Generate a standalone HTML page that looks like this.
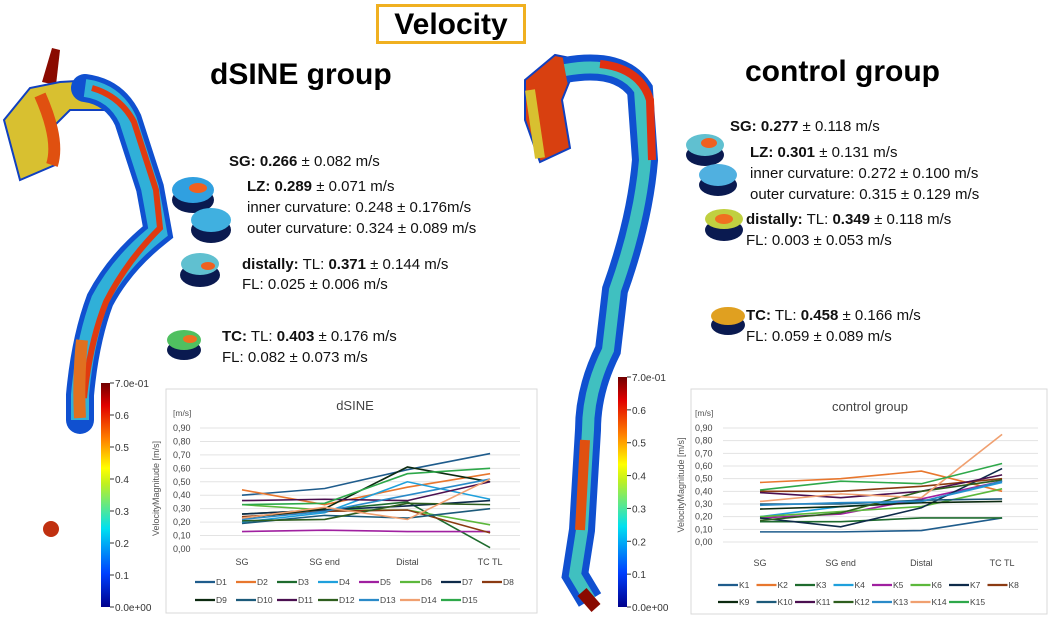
<!DOCTYPE html>
<html><head><meta charset="utf-8">
<style>
body{margin:0;width:1052px;height:617px;background:#fff;position:relative;overflow:hidden;font-family:"Liberation Sans",sans-serif;}
.abs{position:absolute;white-space:nowrap;}
.t{font-size:15px;color:#111;}
</style></head><body>
<div class="abs" style="left:376px;top:4px;width:150px;height:40px;border:3px solid #f0b020;box-sizing:border-box;text-align:center;font-weight:bold;font-size:30px;line-height:36px;">Velocity</div>
<div class="abs" style="left:210px;top:58px;font-weight:bold;font-size:30px;">dSINE group</div>
<div class="abs" style="left:745px;top:55px;font-weight:bold;font-size:30px;">control group</div>

<svg class="abs" style="left:0;top:0" width="1052" height="617">
<defs>
<linearGradient id="cb" x1="0" y1="1" x2="0" y2="0">
<stop offset="0" stop-color="#00008c"/><stop offset="0.15" stop-color="#0040ff"/><stop offset="0.35" stop-color="#00e0f0"/><stop offset="0.55" stop-color="#c0f020"/><stop offset="0.62" stop-color="#ffff00"/><stop offset="0.75" stop-color="#ff8000"/><stop offset="0.9" stop-color="#e00000"/><stop offset="1" stop-color="#700000"/></linearGradient>
</defs>
<g>
<path d="M42,82 L52,48 L60,50 L56,85 Z" fill="#8a0a00"/>
<path d="M4,120 L30,88 L60,82 L95,80 L120,95 L105,110 L70,110 L50,130 L55,165 L20,180 Z" fill="#d8c030" stroke="#1040c0" stroke-width="2"/>
<path d="M40,95 Q60,140 52,165" stroke="#e05010" stroke-width="12" fill="none"/>
<path d="M85,88 Q115,92 128,120 L150,188 L158,232 Q120,262 100,300 Q85,340 80,395 L80,420" stroke="#1050d0" stroke-width="28" fill="none" stroke-linecap="round"/>
<path d="M85,88 Q115,92 128,120 L150,188 L158,232 Q120,262 100,300 Q85,340 80,395 L80,420" stroke="#30b0d8" stroke-width="18" fill="none"/>
<path d="M92,88 Q120,96 134,122 L156,190 L160,228 Q126,262 106,302 Q90,342 84,398" stroke="#e03a10" stroke-width="6" fill="none"/>
<path d="M82,340 Q78,380 80,418" stroke="#e07020" stroke-width="12" fill="none"/>
<circle cx="51" cy="529" r="8" fill="#c03010"/>
</g>
<g>
<path d="M525,80 L555,55 L580,60 L570,80 L562,100 L570,148 L540,162 L525,120 Z" fill="#d84010" stroke="#1040c0" stroke-width="2"/>
<path d="M530,90 L540,158" stroke="#d8c030" stroke-width="10" fill="none"/>
<path d="M565,70 Q620,60 640,90 L645,160 Q640,220 615,290 L608,350 Q588,390 588,430 L582,530 L575,575 L590,600" stroke="#1050d0" stroke-width="26" fill="none"/>
<path d="M565,70 Q620,60 640,90 L645,160 Q640,220 615,290 L608,350 Q588,390 588,430 L582,530 L575,575 L590,600" stroke="#40c0c0" stroke-width="12" fill="none"/>
<path d="M600,64 Q640,68 650,100 L652,160" stroke="#e03010" stroke-width="8" fill="none"/>
<path d="M585,440 L580,530" stroke="#e05010" stroke-width="10" fill="none"/>
<path d="M582,592 L596,608" stroke="#8a0a00" stroke-width="12" fill="none"/>
</g>
<g>
<ellipse cx="193" cy="200" rx="21" ry="13" fill="#0a1a50"/><ellipse cx="193" cy="190" rx="21" ry="13" fill="#30a0e0"/><ellipse cx="198" cy="188" rx="9" ry="5" fill="#f06020"/>
<ellipse cx="211" cy="230" rx="20" ry="13" fill="#0a1a50"/><ellipse cx="211" cy="220" rx="20" ry="12" fill="#40b0e0"/>
<ellipse cx="200" cy="275" rx="20" ry="12" fill="#0a1a50"/><ellipse cx="200" cy="264" rx="19" ry="11" fill="#60c0d0"/><ellipse cx="208" cy="266" rx="7" ry="4" fill="#f06020"/>
<ellipse cx="184" cy="350" rx="17" ry="10" fill="#0a1a50"/><ellipse cx="184" cy="340" rx="17" ry="10" fill="#50c060"/><ellipse cx="190" cy="339" rx="7" ry="4" fill="#f07020"/>
<ellipse cx="705" cy="155" rx="19" ry="11" fill="#0a1a50"/><ellipse cx="705" cy="145" rx="19" ry="11" fill="#60c0d0"/><ellipse cx="709" cy="143" rx="8" ry="5" fill="#f06020"/>
<ellipse cx="718" cy="185" rx="19" ry="11" fill="#0a1a50"/><ellipse cx="718" cy="175" rx="19" ry="11" fill="#50b0e0"/>
<ellipse cx="724" cy="230" rx="19" ry="11" fill="#0a1a50"/><ellipse cx="724" cy="219" rx="19" ry="10" fill="#c0d040"/><ellipse cx="724" cy="219" rx="9" ry="5" fill="#f07020"/>
<ellipse cx="728" cy="325" rx="17" ry="10" fill="#0a1a50"/><ellipse cx="728" cy="316" rx="17" ry="9" fill="#e0a020"/>
</g>
<g>
<rect x="101" y="383" width="9" height="224" fill="url(#cb)"/>
</g>
<g>
<rect x="618" y="377" width="9" height="230" fill="url(#cb)"/>
</g>
<g font-family="Liberation Sans" font-size="10" fill="#333" id="cbl"></g>
</svg>

<div class="abs t" style="left:229px;top:153px"><b>SG: 0.266</b> ± 0.082 m/s</div>
<div class="abs t" style="left:247px;top:176px;line-height:21px"><b>LZ: 0.289</b> ± 0.071 m/s<br>inner curvature: 0.248 ± 0.176m/s<br>outer curvature: 0.324 ± 0.089 m/s</div>
<div class="abs t" style="left:242px;top:255px;line-height:20px"><b>distally:</b> TL: <b>0.371</b> ± 0.144 m/s<br>FL: 0.025 ± 0.006 m/s</div>
<div class="abs t" style="left:222px;top:326px;line-height:21px"><b>TC:</b> TL: <b>0.403</b> ± 0.176 m/s<br>FL: 0.082 ± 0.073 m/s</div>

<div class="abs t" style="left:730px;top:118px"><b>SG: 0.277</b> ± 0.118 m/s</div>
<div class="abs t" style="left:750px;top:142px;line-height:21px"><b>LZ: 0.301</b> ± 0.131 m/s<br>inner curvature: 0.272 ± 0.100 m/s<br>outer curvature: 0.315 ± 0.129 m/s</div>
<div class="abs t" style="left:746px;top:209px;line-height:21px"><b>distally:</b> TL: <b>0.349</b> ± 0.118 m/s<br>FL: 0.003 ± 0.053 m/s</div>
<div class="abs t" style="left:746px;top:305px;line-height:21px"><b>TC:</b> TL: <b>0.458</b> ± 0.166 m/s<br>FL: 0.059 ± 0.089 m/s</div>

<svg class="abs" id="c1" style="left:0;top:0" width="1052" height="617"></svg>

<script>
const categories = ["SG","SG end","Distal","TC TL"];
const yTicks = [0,0.1,0.2,0.3,0.4,0.5,0.6,0.7,0.8,0.9];
const yTickLabels = ["0,00","0,10","0,20","0,30","0,40","0,50","0,60","0,70","0,80","0,90"];
const cbTicks = [0,0.1,0.2,0.3,0.4,0.5,0.6,0.7];
const cbLabels = ["0.0e+00","0.1","0.2","0.3","0.4","0.5","0.6","7.0e-01"];
const dNames = ["D1","D2","D3","D4","D5","D6","D7","D8","D9","D10","D11","D12","D13","D14","D15"];
const kNames = ["K1","K2","K3","K4","K5","K6","K7","K8","K9","K10","K11","K12","K13","K14","K15"];
const D1=[0.40,0.45,0.59,0.71], D2=[0.44,0.33,0.46,0.56], D3=[0.26,0.29,0.35,0.01], D4=[0.20,0.27,0.50,0.37], D5=[0.13,0.14,0.13,0.13];
const D6=[0.33,0.29,0.29,0.18], D7=[0.26,0.29,0.32,0.36], D8=[0.24,0.28,0.29,0.12], D9=[0.23,0.30,0.61,0.50], D10=[0.19,0.25,0.23,0.30];
const D11=[0.36,0.37,0.36,0.50], D12=[0.21,0.22,0.34,0.33], D13=[0.22,0.28,0.40,0.52], D14=[0.23,0.31,0.22,0.52], D15=[0.33,0.34,0.56,0.60];
const K1=[0.08,0.08,0.09,0.19], K2=[0.47,0.50,0.56,0.40], K3=[0.16,0.16,0.19,0.19], K4=[0.20,0.28,0.32,0.47], K5=[0.19,0.22,0.34,0.48];
const K6=[0.20,0.24,0.28,0.42], K7=[0.19,0.12,0.27,0.58], K8=[0.40,0.40,0.44,0.50], K9=[0.26,0.28,0.31,0.32], K10=[0.30,0.30,0.33,0.34];
const K11=[0.39,0.35,0.40,0.53], K12=[0.17,0.23,0.40,0.49], K13=[0.29,0.31,0.32,0.48], K14=[0.32,0.38,0.35,0.85], K15=[0.41,0.48,0.46,0.62];
const dSeries=[D1,D2,D3,D4,D5,D6,D7,D8,D9,D10,D11,D12,D13,D14,D15];
const kSeries=[K1,K2,K3,K4,K5,K6,K7,K8,K9,K10,K11,K12,K13,K14,K15];
const palette=["#1f5c8c","#e8772e","#1e6b2e","#1fa0dc","#a020a0","#5cb83c","#0e2b4a","#8b3a12","#0c2a10","#1c5a7a","#4b1050","#2e5e1e","#2a8ac8","#f0a070","#2ea84a"];

const NS="http://www.w3.org/2000/svg";
function mk(parent,tag,attrs){const e=document.createElementNS(NS,tag);for(const k in attrs)e.setAttribute(k,attrs[k]);parent.appendChild(e);return e;}

const cbl=document.getElementById('cbl');
[[110,383,607],[627,377,607]].forEach((b,bi)=>{
  cbTicks.forEach((v,i)=>{
    const y=b[2]-(v/0.7)*(b[2]-b[1]);
    const l=mk(cbl,'line',{x1:b[0],x2:b[0]+4,y1:y,y2:y,stroke:'#333'});
    
    
    const t=mk(cbl,'text',{x:b[0]+5,y:y+4});
    
    
    t.textContent=cbLabels[i];
  });
});

const svg=document.getElementById('c1');
function chart(cfg){
  const g=mk(svg,'g',{});
  
  
  const box=mk(g,'rect',{x:cfg.bx,y:cfg.by,width:cfg.bw,height:cfg.bh,fill:'#fff',stroke:'#d9d9d9'});
  
  
  const yS=v=>cfg.y0-(v/0.9)*(cfg.y0-cfg.y9);
  const xS=i=>cfg.xs+i*cfg.dx;
  const tt=mk(g,'text',{x:cfg.tx,y:cfg.ty,'font-size':13,fill:'#444','text-anchor':'middle','font-family':'Liberation Sans'});
  
  
  tt.textContent=cfg.title;
  const un=mk(g,'text',{x:cfg.lblx,y:cfg.y9-12,'font-size':8.5,fill:'#555','font-family':'Liberation Sans'});
  
  
  un.textContent='[m/s]';
  const yt=mk(g,'text',{transform:`translate(${cfg.titx},${(cfg.y0+cfg.y9)/2}) rotate(-90)`,'font-size':9,fill:'#555','text-anchor':'middle','font-family':'Liberation Sans'});
  
  
  yt.textContent='VelocityMagnitude  [m/s]';
  yTicks.forEach((v,i)=>{
    const y=yS(v);
    const gl=mk(g,'line',{x1:cfg.gx0,x2:cfg.gx1,y1:y,y2:y,stroke:'#e3e3e3'});
    
    
    const t=mk(g,'text',{x:cfg.lblx,y:y+3,'font-size':9,fill:'#444','font-family':'Liberation Sans'});
    
    
    t.textContent=yTickLabels[i];
  });
  categories.forEach((c,i)=>{
    const t=mk(g,'text',{x:xS(i),y:cfg.lx,'font-size':9,fill:'#444','text-anchor':'middle','font-family':'Liberation Sans'});
    
    
    t.textContent=c;
  });
  cfg.series.forEach((s,si)=>{
    const p=mk(g,'polyline',{points:s.map((v,i)=>xS(i)+','+yS(v)).join(' '),fill:'none',stroke:palette[si],'stroke-width':1.6});
    
    
  });
  cfg.names.forEach((n,i)=>{
    const row=i<8?0:1, col=i<8?i:i-8;
    const x=cfg.legx+col*cfg.legdx, y=row?cfg.leg2:cfg.leg1;
    const lg=mk(g,'g',{});
    
    
    mk(lg,'line',{x1:x,x2:x+20,y1:y,y2:y,stroke:palette[i],'stroke-width':2.2});
    const t=mk(lg,'text',{x:x+21,y:y+3,'font-size':8.5,fill:'#444','font-family':'Liberation Sans'});
    t.textContent=n;
  });
}
chart({name:'dsine-chart',title:'dSINE',series:dSeries,names:dNames,bx:166,by:389,bw:371,bh:224,tx:355,ty:410,y0:549,y9:428,gx0:200,gx1:520,lblx:173,titx:159,xs:242,dx:82.7,lx:565,leg1:582,leg2:600,legx:195,legdx:41});
chart({name:'control-chart',title:'control group',series:kSeries,names:kNames,bx:691,by:389,bw:356,bh:225,tx:870,ty:411,y0:542,y9:428,gx0:723,gx1:1038,lblx:695,titx:684,xs:760,dx:80.7,lx:566,leg1:585,leg2:602,legx:718,legdx:38.5});
</script>
</body></html>
